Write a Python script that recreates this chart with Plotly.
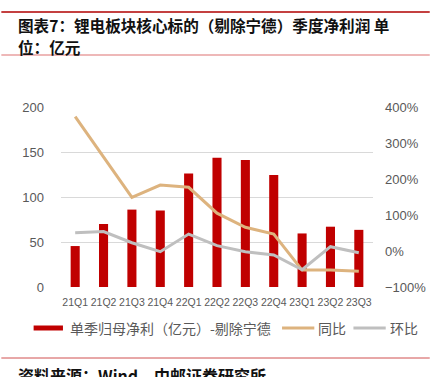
import plotly.graph_objects as go

categories = ["21Q1", "21Q2", "21Q3", "21Q4", "22Q1", "22Q2", "22Q3", "22Q4", "23Q1", "23Q2", "23Q3"]
net_profit = [45.5, 70, 86, 85, 126, 143.5, 141, 124.5, 59.5, 67, 63.5]
yoy = [3.73, 2.61, 1.49, 1.83, 1.77, 1.05, 0.66, 0.47, -0.53, -0.53, -0.56]
qoq = [0.51, 0.54, 0.23, -0.02, 0.47, 0.15, -0.02, -0.11, -0.52, 0.12, -0.05]

left_ticks = [0, 50, 100, 150, 200]
right_ticks = [-1, 0, 1, 2, 3, 4]

W, H = 438, 377
L, R, T, B = 61, 380, 107, 287

def px(x):
    return (x - L) / (R - L)

def py(y):
    return (B - y) / (B - T)

BAR = "#C00000"
GOLD = "#DDB37E"
GRAY = "#BFBFBF"
TXT = "#595959"
CJK = "Noto Sans CJK SC"
LAT = "Liberation Sans, Arial, sans-serif"

fig = go.Figure()
fig.add_trace(go.Bar(x=categories, y=net_profit, marker=dict(color=BAR, line=dict(width=0)),
                     name="单季归母净利（亿元）-剔除宁德"))
fig.add_trace(go.Scatter(x=categories, y=yoy, yaxis="y2", mode="lines",
                         line=dict(color=GOLD, width=3), name="同比"))
fig.add_trace(go.Scatter(x=categories, y=qoq, yaxis="y2", mode="lines",
                         line=dict(color=GRAY, width=3), name="环比"))

fig.update_layout(
    width=W, height=H,
    margin=dict(l=L, r=W - R, t=T, b=H - B, pad=0),
    paper_bgcolor="white", plot_bgcolor="white",
    showlegend=False,
    bargap=0.68,
    xaxis=dict(type="category", showgrid=False, zeroline=False, showline=False,
               ticks="", tickfont=dict(family=LAT, size=10.5, color=TXT),
               ticklabelstandoff=7),
    yaxis=dict(range=[0, 200], tickvals=left_ticks, showgrid=True, gridcolor="#D9D9D9",
               gridwidth=1, zeroline=False, showline=False, ticks="",
               tickfont=dict(family=LAT, size=13, color=TXT), ticklabelstandoff=16),
    yaxis2=dict(range=[-1, 4], tickvals=right_ticks, tickformat=".0%", overlaying="y",
                side="right", showgrid=False, zeroline=False, showline=False, ticks="",
                tickfont=dict(family=LAT, size=13, color=TXT), ticklabelstandoff=11),
)

shapes = []
# header/footer rules
shapes.append(dict(type="line", xref="paper", yref="paper", x0=px(0), x1=px(W), y0=py(12), y1=py(12),
                   line=dict(color="#B00000", width=1.5)))
shapes.append(dict(type="line", xref="paper", yref="paper", x0=px(0), x1=px(W), y0=py(55), y1=py(55),
                   line=dict(color="#E8A0A0", width=1.5)))
shapes.append(dict(type="line", xref="paper", yref="paper", x0=px(0), x1=px(W), y0=py(358), y1=py(358),
                   line=dict(color="#D05050", width=1)))
# legend glyphs
shapes.append(dict(type="rect", xref="paper", yref="paper", x0=px(33), x1=px(63), y0=py(330.5), y1=py(325.5),
                   fillcolor=BAR, line=dict(width=0)))
shapes.append(dict(type="line", xref="paper", yref="paper", x0=px(287), x1=px(320), y0=py(328), y1=py(328),
                   line=dict(color=GOLD, width=3)))
shapes.append(dict(type="line", xref="paper", yref="paper", x0=px(360), x1=px(393), y0=py(328), y1=py(328),
                   line=dict(color=GRAY, width=3)))
fig.update_layout(shapes=shapes)

ann = []
def text(x, y, s, size, color, bold=False, family=CJK):
    ann.append(dict(xref="paper", yref="paper", x=px(x), y=py(y), xanchor="left", yanchor="middle",
                    text=("<b>%s</b>" % s) if bold else s, showarrow=False,
                    font=dict(family=family, size=size, color=color)))

text(15, 25, "图表7：锂电板块核心标的（剔除宁德）季度净利润 单", 15.6, "#111111", bold=True)
text(15, 47, "位：亿元", 15.6, "#111111", bold=True)
text(68, 328, "单季归母净利（亿元）-剔除宁德", 14, TXT)
text(322, 328, "同比", 14, TXT)
text(395, 328, "环比", 14, TXT)
text(15, 375, "资料来源：Wind，中邮证券研究所", 16, "#111111", bold=True)
fig.update_layout(annotations=ann)

fig.write_html("out.html",
               config={"displayModeBar": False},
               post_script="document.body.style.margin='0';document.body.style.overflow='hidden';"
                           "document.documentElement.style.overflow='hidden';")
